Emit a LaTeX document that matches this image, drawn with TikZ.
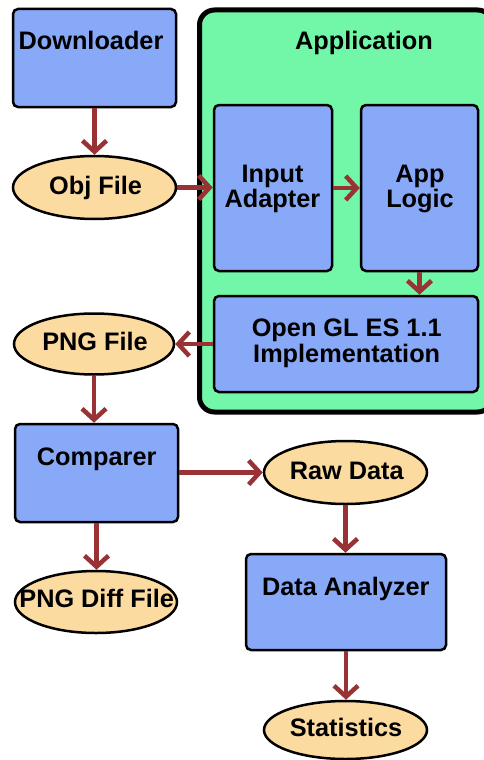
\documentclass[tikz,border=0pt]{standalone}
\usepackage{fontspec}
\setmainfont{Liberation Sans}
\usetikzlibrary{shapes.geometric,arrows.meta}
\definecolor{boxblue}{HTML}{88A8F8}
\definecolor{filetan}{HTML}{FCDBA0}
\definecolor{appgreen}{HTML}{72F7A8}
\definecolor{flowred}{HTML}{983234}
\tikzset{
  box/.style={draw=black, line width=2.5pt, fill=boxblue, rounded corners=5pt,
    inner sep=0pt, rectangle},
  file/.style={draw=black, line width=2.5pt, fill=filetan, ellipse, inner sep=0pt},
  container/.style={draw=black, line width=5pt, fill=appgreen, rounded corners=15pt,
    inner sep=0pt, rectangle},
  txt/.style={inner sep=0pt, font=\bfseries\fontsize{25.3}{25.5}\selectfont, align=center},
  flow/.style={draw=flowred, line width=4.5pt,
    -{Straight Barb[length=11pt,width=24pt,line width=4.5pt]}},
}
\begin{document}
\begin{tikzpicture}[x=1pt,y=-1pt]
\useasboundingbox (0,0) rectangle (483,760);

% application container (runs past the right edge)
\node[container, minimum width=293, minimum height=402] (app) at (346,211) {};
\node[txt, anchor=base] (apptitle) at (364,50) {Application};

% boxes
\node[box, minimum width=163, minimum height=98] (dl) at (94.5,58) {};
\node[txt, anchor=base] (dlt) at (91,50) {Downloader};

\node[box, minimum width=118, minimum height=166] (ia) at (273,188) {};
\node[txt] (iat) at (272.5,189.1) {Input\\Adapter};

\node[box, minimum width=117, minimum height=166] (al) at (419.5,188) {};
\node[txt] (alt) at (420,189.1) {App\\Logic};

\node[box, minimum width=264, minimum height=96] (gl) at (346,344) {};
\node[txt] (glt) at (346.7,343.4) {Open GL ES 1.1\\Implementation};

\node[box, minimum width=163, minimum height=98] (cmp) at (96.5,473) {};
\node[txt, anchor=base] (cmpt) at (96.7,465) {Comparer};

\node[box, minimum width=200, minimum height=96] (da) at (346,602) {};
\node[txt, anchor=base] (dat) at (345.8,595) {Data Analyzer};

% data files
\node[file, minimum width=163, minimum height=63] (obj) at (94.5,187.5) {};
\node[txt, anchor=base] (objt) at (95.5,194) {Obj File};

\node[file, minimum width=160, minimum height=61] (png) at (94,344) {};
\node[txt, anchor=base] (pngt) at (95,350) {PNG File};

\node[file, minimum width=163, minimum height=63] (raw) at (345.5,472.5) {};
\node[txt, anchor=base] (rawt) at (346.7,479) {Raw Data};

\node[file, minimum width=162, minimum height=62] (diff) at (96,602) {};
\node[txt, anchor=base] (difft) at (96.7,607) {PNG Diff File};

\node[file, minimum width=163, minimum height=58] (stat) at (345.5,730) {};
\node[txt, anchor=base] (statt) at (346,736) {Statistics};

% flows
\draw[flow] (dl.south) -- (obj.north);
\draw[flow] (obj.east) -- (obj.east -| ia.west);
\draw[flow] (ia.east) -- (ia.east -| al.west);
\draw[flow] (al.south) -- (al.south |- gl.north);
\draw[flow] (gl.west) -- (gl.west -| png.east);
\draw[flow] (png.south) -- (png.south |- cmp.north);
\draw[flow] (cmp.east |- raw.west) -- (raw.west);
\draw[flow] (cmp.south) -- (cmp.south |- diff.north);
\draw[flow] (raw.south) -- (raw.south |- da.north);
\draw[flow] (da.south) -- (da.south |- stat.north);
\end{tikzpicture}
\end{document}
